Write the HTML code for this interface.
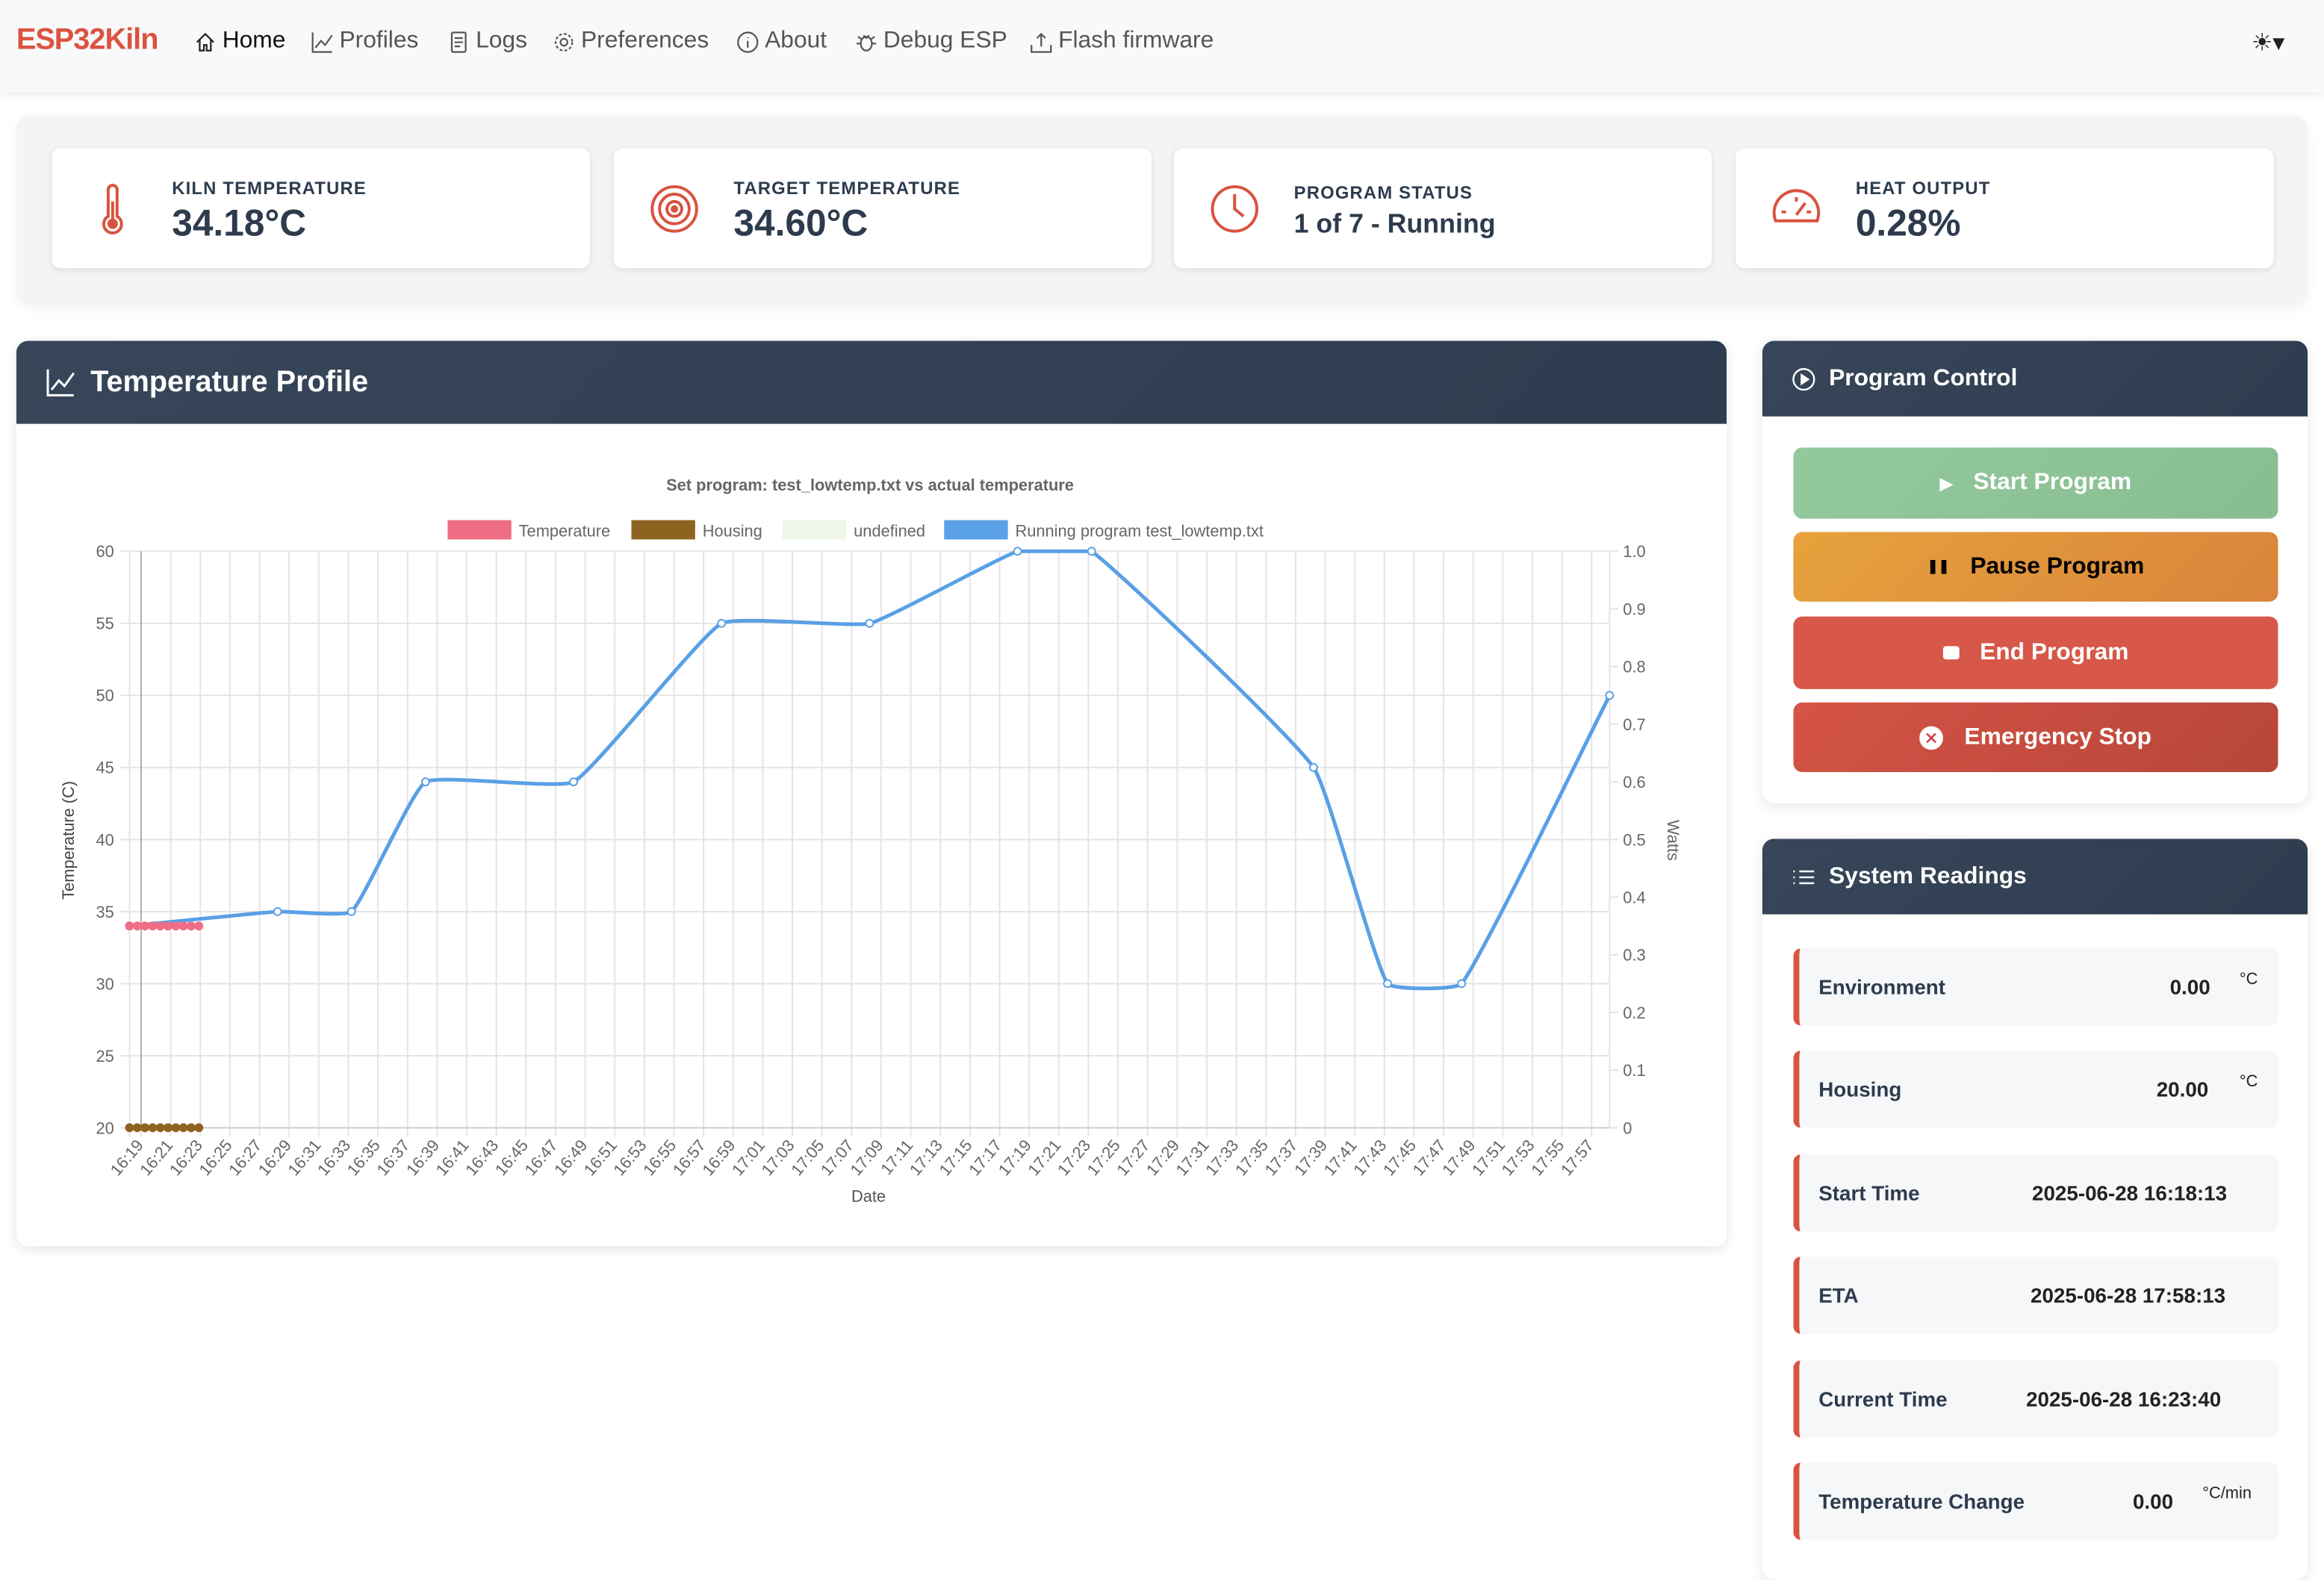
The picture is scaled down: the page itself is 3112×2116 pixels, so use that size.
<!DOCTYPE html>
<html><head><meta charset="utf-8"><style>
*{box-sizing:border-box;margin:0;padding:0}
html,body{width:3112px;height:2084px;overflow:hidden;background:#fff}
body{font-family:"Liberation Sans",sans-serif}
#page{position:absolute;left:0;top:0;width:1568px;height:1050px;transform:scale(1.98469);transform-origin:0 0;background:#fff}
.abs{position:absolute}
.nav{left:0;top:0;width:1568px;height:62px;background:#f8f9fa;box-shadow:0 2px 6px rgba(0,0,0,.08)}
.brand{left:11px;top:16px;font-size:20px;font-weight:bold;color:#dc5340;letter-spacing:-0.5px}
.nl{top:19px;font-size:16px;color:#555;display:flex;align-items:center;gap:4px}
.nl svg{width:15px;height:15px}
.stats{left:11px;top:78px;width:1546px;height:128px;background:#f3f4f6;border-radius:10px;box-shadow:0 2px 8px rgba(0,0,0,.05)}
.card{top:100px;width:363px;height:81px;background:#fff;border-radius:6px;box-shadow:0 1px 4px rgba(0,0,0,.1)}
.card .lbl{position:absolute;left:81px;top:20px;font-size:12px;font-weight:bold;color:#2d3b4d;letter-spacing:.6px}
.card .val{position:absolute;left:81px;top:37px;font-size:25px;font-weight:bold;color:#2d3b4d}
.card .lbl.b{top:23px}.card .val.b{top:41px;font-size:18px}
.card svg{position:absolute;left:22px;top:22px;width:38px;height:38px}
.panel{background:#fff;border-radius:8px;box-shadow:0 2px 8px rgba(0,0,0,.1);overflow:hidden}
.ph{position:absolute;left:0;top:0;width:100%;background:linear-gradient(135deg,#374659,#2e3c4f);color:#fff;font-weight:bold;display:flex;align-items:center}
.btn{left:1210px;width:327px;border-radius:6px;color:#fff;font-weight:bold;font-size:16px;display:flex;align-items:center;justify-content:center;gap:14px}
.row{left:1210px;width:327px;height:52px;background:#f6f7f9;border-left:4px solid #d9533f;border-radius:5px;font-size:14px;font-weight:bold;color:#2d3b4d}
.row .k{position:absolute;left:13px;top:18px}
.row .v{position:absolute;top:18px;font-size:14px;color:#222}
.row .u{position:absolute;top:15px;font-size:11px;color:#222;font-weight:normal}
</style></head><body>
<div id="page">
<div class="abs nav"></div>
<div class="abs brand">ESP32Kiln</div>
<div class="abs nl" style="left:131px;color:#111"><svg viewBox="0 0 16 16" fill="none" stroke="#222" stroke-width="1.2"><path d="M2 8 8 2l6 6M4 6v8h3v-4h2v4h3V6"/></svg>Home</div>
<div class="abs nl" style="left:210px"><svg viewBox="0 0 16 16" fill="none" stroke="#555" stroke-width="1.2"><path d="M1 1v14h14M3 12l4-5 3 3 5-7"/></svg>Profiles</div>
<div class="abs nl" style="left:302px"><svg viewBox="0 0 16 16" fill="none" stroke="#555" stroke-width="1.2"><rect x="3" y="1" width="10" height="14" rx="1"/><path d="M5 5h6M5 8h6M5 11h4"/></svg>Logs</div>
<div class="abs nl" style="left:373px"><svg viewBox="0 0 16 16" fill="none" stroke="#555" stroke-width="1.2"><circle cx="8" cy="8" r="2.5"/><circle cx="8" cy="8" r="6" stroke-dasharray="2 1.5"/></svg>Preferences</div>
<div class="abs nl" style="left:497px"><svg viewBox="0 0 16 16" fill="none" stroke="#555" stroke-width="1.2"><circle cx="8" cy="8" r="7"/><path d="M8 7v5M8 4.5v.5"/></svg>About</div>
<div class="abs nl" style="left:577px"><svg viewBox="0 0 16 16" fill="none" stroke="#555" stroke-width="1.2"><ellipse cx="8" cy="9" rx="4" ry="5"/><path d="M1 9h3M12 9h3M2 4l3 2M14 4l-3 2M6 3l2 2 2-2"/></svg>Debug ESP</div>
<div class="abs nl" style="left:695px"><svg viewBox="0 0 16 16" fill="none" stroke="#555" stroke-width="1.2"><path d="M8 11V2M5 5l3-3 3 3M1 10v5h14v-5"/></svg>Flash firmware</div>
<div class="abs" style="left:1519px;top:19px;font-size:16px;color:#222">☀▾</div>

<div class="abs stats"></div>
<div class="abs card" style="left:35px"><svg viewBox="0 0 38 38" fill="none" stroke="#d9533f" stroke-width="2"><path d="M16 6a3 3 0 0 1 6 0v18a6 6 0 1 1-6 0z"/><circle cx="19" cy="29" r="2.5" fill="#d9533f"/><path d="M19 14v13"/></svg><div class="lbl">KILN TEMPERATURE</div><div class="val">34.18°C</div></div>
<div class="abs card" style="left:414px"><svg viewBox="0 0 38 38" fill="none" stroke="#d9533f" stroke-width="2"><circle cx="19" cy="19" r="15"/><circle cx="19" cy="19" r="10"/><circle cx="19" cy="19" r="5"/><circle cx="19" cy="19" r="1.5" fill="#d9533f"/></svg><div class="lbl">TARGET TEMPERATURE</div><div class="val">34.60°C</div></div>
<div class="abs card" style="left:792px"><svg viewBox="0 0 38 38" fill="none" stroke="#d9533f" stroke-width="2"><circle cx="19" cy="19" r="15"/><path d="M19 9v10l6 5"/></svg><div class="lbl b">PROGRAM STATUS</div><div class="val b">1 of 7 - Running</div></div>
<div class="abs card" style="left:1171px"><svg viewBox="0 0 38 38" fill="none" stroke="#d9533f" stroke-width="2"><path d="M5 27a15 15 0 1 1 28 0z"/><path d="M19 23l6-8M9 21h3M26 21h3M19 11v3"/></svg><div class="lbl">HEAT OUTPUT</div><div class="val">0.28%</div></div>

<div class="abs panel" style="left:11px;top:230px;width:1154px;height:611px">
<div class="ph" style="height:56px;font-size:20px;padding-left:20px;gap:10px"><svg width="20" height="20" viewBox="0 0 16 16" fill="none" stroke="#fff" stroke-width="1.2"><path d="M1 1v14h14M3 12l4-5 3 3 5-7"/></svg>Temperature Profile</div>
</div>
<svg id="chart" class="abs" style="left:11px;top:286px" width="1154" height="555" viewBox="11 286 1154 555"></svg>

<div class="abs panel" style="left:1189px;top:230px;width:368px;height:312px">
<div class="ph" style="height:51px;font-size:16px;padding-left:20px;gap:9px"><svg width="16" height="16" viewBox="0 0 16 16" fill="none" stroke="#fff" stroke-width="1.2"><circle cx="8" cy="8" r="7"/><path d="M6.5 5v6l4.5-3z" fill="#fff"/></svg>Program Control</div>
</div>
<div class="abs btn" style="top:302px;height:48px;background:linear-gradient(135deg,#93c99d,#88bd92)"><span style="font-size:11px">▶</span>Start Program</div>
<div class="abs btn" style="top:359px;height:47px;background:linear-gradient(135deg,#e6a23c,#d9843b);color:#000"><span style="font-size:9px">❚❚</span>Pause Program</div>
<div class="abs btn" style="top:416px;height:49px;background:#d75748"><span style="display:inline-block;width:11px;height:9px;background:#fff;border-radius:2px"></span>End Program</div>
<div class="abs btn" style="top:474px;height:47px;background:linear-gradient(135deg,#d45445,#b8453a)"><svg width="16" height="16" viewBox="0 0 16 16"><circle cx="8" cy="8" r="8" fill="#fff"/><path d="M5 5l6 6M11 5l-6 6" stroke="#c44" stroke-width="1.3"/></svg>Emergency Stop</div>

<div class="abs panel" style="left:1189px;top:566px;width:368px;height:500px">
<div class="ph" style="height:51px;font-size:16px;padding-left:20px;gap:9px"><svg width="16" height="16" viewBox="0 0 16 16" fill="none" stroke="#fff" stroke-width="1.2"><path d="M5 4h10M5 8h10M5 12h10M1 4h1M1 8h1M1 12h1"/></svg>System Readings</div>
</div>
<div class="abs row" style="top:640px"><span class="k">Environment</span><span class="v" style="left:250px">0.00</span><span class="u" style="left:297px">°C</span></div>
<div class="abs row" style="top:709px"><span class="k">Housing</span><span class="v" style="left:241px">20.00</span><span class="u" style="left:297px">°C</span></div>
<div class="abs row" style="top:779px"><span class="k">Start Time</span><span class="v" style="left:157px">2025-06-28 16:18:13</span></div>
<div class="abs row" style="top:848px"><span class="k">ETA</span><span class="v" style="left:156px">2025-06-28 17:58:13</span></div>
<div class="abs row" style="top:918px"><span class="k">Current Time</span><span class="v" style="left:153px">2025-06-28 16:23:40</span></div>
<div class="abs row" style="top:987px"><span class="k">Temperature Change</span><span class="v" style="left:225px">0.00</span><span class="u" style="left:272px">°C/min</span></div>
</div>

<script>
// minutes since program start 16:18:13
const programTimes = [0,10,15,20,30,40,50,60,65,80,85,90,100];
const programTemps = [34,35,35,44,44,55,55,60,60,45,30,30,50];
const actualTimes = [0,0.52,1.04,1.56,2.08,2.6,3.12,3.64,4.16,4.68];
const actualTemps = [34,34,34,34,34,34,34,34,34,34];
const housingTemps = [20,20,20,20,20,20,20,20,20,20];
const yTicks = [20,25,30,35,40,45,50,55,60];
const wattTicks = ['0','0.1','0.2','0.3','0.4','0.5','0.6','0.7','0.8','0.9','1.0'];
const startMinuteOfDay = 16*60+18+13/60;

const svg = document.getElementById('chart');
const NS = 'http://www.w3.org/2000/svg';
const L=87.4,R=1086,T=372,B=761,TMAX=100,YMIN=20,YMAX=60;
const xs = t => L + (t/TMAX)*(R-L);
const ys = v => B - (v-YMIN)/(YMAX-YMIN)*(B-T);
function mk(tag, attrs, parent){const e=document.createElementNS(NS,tag);for(const k in attrs)e.setAttribute(k,attrs[k]);(parent||svg).appendChild(e);return e;}
function txt(s, attrs){const e=mk('text',attrs);e.textContent=s;return e;}

const grid = mk('g',{});


yTicks.forEach(v=>{
  mk('line',{x1:L-6,x2:R,y1:ys(v),y2:ys(v),stroke:'#e4e4e4','stroke-width':1},grid);
  const t=txt(String(v),{x:77,y:ys(v)+4,'text-anchor':'end','font-size':11,fill:'#666','font-family':'Liberation Sans'});
  
  
});
wattTicks.forEach((w,i)=>{
  const y=B-i/(wattTicks.length-1)*(B-T);
  mk('line',{x1:R,x2:R+6,y1:y,y2:y,stroke:'#e4e4e4'},grid);
  const t=txt(w,{x:1095,y:y+4,'font-size':11,fill:'#666','font-family':'Liberation Sans'});
  
  
});
mk('line',{x1:L,x2:L,y1:T,y2:B+6,stroke:'#e4e4e4'},grid);
for(let m=Math.ceil(startMinuteOfDay); m<=startMinuteOfDay+TMAX; m+=2){
  const t=m-startMinuteOfDay, x=xs(t);
  mk('line',{x1:x,x2:x,y1:T,y2:B+6,stroke:'#e4e4e4'},grid);
  const hh=Math.floor(m/60), mm=String(m%60).padStart(2,'0');
  const lab=txt(hh+':'+mm,{x:x+2,y:B+12,'text-anchor':'end','font-size':11,fill:'#666','font-family':'Liberation Sans',transform:`rotate(-50 ${x+2} ${B+12})`});
  
  
}
mk('line',{x1:R,x2:R,y1:T,y2:B,stroke:'#e4e4e4'},grid);
mk('line',{x1:xs(0.78),x2:xs(0.78),y1:T,y2:B,stroke:'#b0b0b0'},grid);
mk('line',{x1:L,x2:R,y1:B,y2:B,stroke:'#d0d0d0'},grid);

let e=txt('Set program: test_lowtemp.txt vs actual temperature',{x:587,y:331,'text-anchor':'middle','font-size':11,'font-weight':'bold',fill:'#666','font-family':'Liberation Sans'});


e=txt('Temperature (C)',{x:50,y:567,'text-anchor':'middle','font-size':11,fill:'#444','font-family':'Liberation Sans',transform:'rotate(-90 50 567)'});


e=txt('Watts',{x:1125,y:567,'text-anchor':'middle','font-size':11,fill:'#666','font-family':'Liberation Sans',transform:'rotate(90 1125 567)'});


e=txt('Date',{x:586,y:811,'text-anchor':'middle','font-size':11,fill:'#555','font-family':'Liberation Sans'});



const legend=[['Temperature','#ef6d85',302],['Housing','#8e6320',426],['undefined','#eef7ea',528],['Running program test_lowtemp.txt','#59a0e6',637]];
legend.forEach(([n,c,x])=>{
  const g=mk('g',{});
  
  
  mk('rect',{x:x,y:351,width:43,height:13,fill:c},g);
  const t=mk('text',{x:x+48,y:362,'font-size':11,fill:'#666','font-family':'Liberation Sans'},g);t.textContent=n;
});

const pts=programTimes.map((t,i)=>[xs(t),ys(programTemps[i])]);
function cps(p0,p1,p2,ten){const d01=Math.hypot(p1[0]-p0[0],p1[1]-p0[1]),d12=Math.hypot(p2[0]-p1[0],p2[1]-p1[1]);let s01=d01/(d01+d12)||0,s12=d12/(d01+d12)||0;const fa=ten*s01,fb=ten*s12;return[[p1[0]-fa*(p2[0]-p0[0]),p1[1]-fa*(p2[1]-p0[1])],[p1[0]+fb*(p2[0]-p0[0]),p1[1]+fb*(p2[1]-p0[1])]];}
const cp=pts.map((p,i)=>cps(pts[Math.max(0,i-1)],p,pts[Math.min(pts.length-1,i+1)],0.12));
let d=`M${pts[0][0]},${pts[0][1]}`;
for(let i=1;i<pts.length;i++){const a=cp[i-1][1],b=cp[i][0];d+=` C${a[0]},${Math.max(T,a[1])} ${b[0]},${Math.max(T,b[1])} ${pts[i][0]},${pts[i][1]}`;}
const line=mk('path',{d:d,fill:'none',stroke:'#59a0e6','stroke-width':2.5});


pts.forEach(p=>{const c=mk('circle',{cx:p[0],cy:p[1],r:2.5,fill:'#fff',stroke:'#59a0e6','stroke-width':1});

});

actualTimes.forEach((t,i)=>{
  const c=mk('circle',{cx:xs(t),cy:ys(actualTemps[i]),r:3,fill:'#ef6d85'});
  
  
  const h=mk('circle',{cx:xs(t),cy:ys(housingTemps[i]),r:3,fill:'#8e6320'});
  
  
});
</script>
</body></html>
